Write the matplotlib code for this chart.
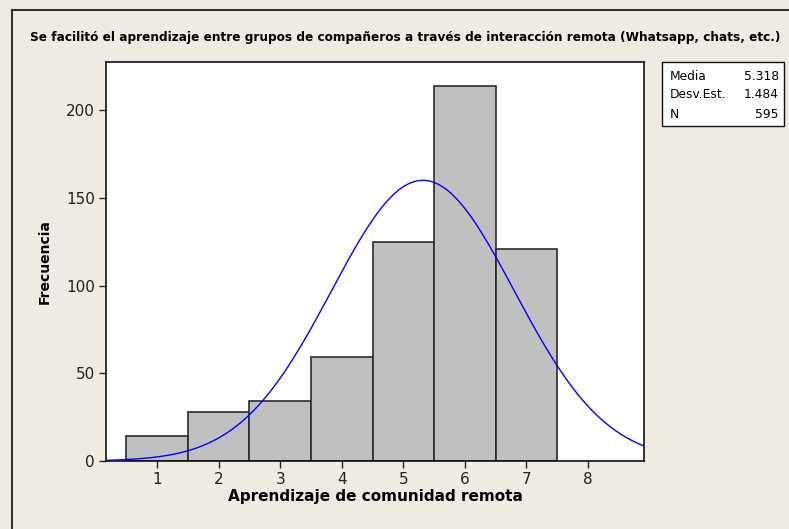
import numpy as np
import matplotlib
matplotlib.use("Agg")
import matplotlib.pyplot as plt
from matplotlib.patches import Rectangle
from matplotlib.lines import Line2D

# histogram data
categorias = [1, 2, 3, 4, 5, 6, 7]
frecuencias = [14, 28, 34, 59, 125, 214, 121]
media = 5.318
desv_est = 1.484
n_total = 595

titulo = "Se facilitó el aprendizaje entre grupos de compañeros a través de interacción remota (Whatsapp, chats, etc.)"
etiqueta_x = "Aprendizaje de comunidad remota"
etiqueta_y = "Frecuencia"
x_ticks = [1, 2, 3, 4, 5, 6, 7, 8]
y_ticks = [0, 50, 100, 150, 200]

fondo = "#EFEBE1"
W, H = 789, 529

fig = plt.figure(figsize=(W / 100, H / 100), dpi=100, facecolor=fondo)

# axes box in pixels: left 106, right 644, top 62, bottom 461
ax = fig.add_axes([106 / W, 1 - 461 / H, (644 - 106) / W, (461 - 62) / H])
ax.set_facecolor("white")

ax.bar(categorias, frecuencias, width=1.0, color="#C0C0C0",
       edgecolor="#2b2b2b", linewidth=1.2, zorder=2)

# fitted normal curve (Minitab style), scaled by N * bin width
xs = np.linspace(0.17, 8.91, 400)
curva = n_total * 1.0 / (desv_est * np.sqrt(2 * np.pi)) * np.exp(-0.5 * ((xs - media) / desv_est) ** 2)
ax.plot(xs, curva, color="#0000FF", linewidth=1.0, zorder=3)

ax.set_xlim(0.17, 8.91)
ax.set_ylim(0, 227.4)
ax.set_xticks(x_ticks)
ax.set_yticks(y_ticks)
ax.tick_params(direction="out", length=5, width=1, labelsize=11,
               colors="#222222", pad=3)
for s in ax.spines.values():
    s.set_linewidth(1.2)
    s.set_color("#111111")

ax.set_xlabel(etiqueta_x, fontsize=11, fontweight="bold", labelpad=1)
ax.set_ylabel(etiqueta_y, fontsize=10, fontweight="bold", labelpad=10)

fig.text(405 / W, 1 - 37 / H, titulo, ha="center", va="center",
         fontsize=8.75, fontweight="bold")

# stats box
fig.patches.append(Rectangle((662 / W, 1 - 126 / H), (784 - 662) / W, (126 - 62) / H,
                             transform=fig.transFigure, facecolor="white",
                             edgecolor="#111111", linewidth=1.0))
filas = [("Media", f"{media:.3f}"), ("Desv.Est.", f"{desv_est:.3f}"), ("N", f"{n_total}")]
for i, (k, v) in enumerate(filas):
    yy = 1 - (76 + 19 * i) / H
    fig.text(670 / W, yy, k, ha="left", va="center", fontsize=8.8)
    fig.text(779 / W, yy, v, ha="right", va="center", fontsize=8.8)

# window border at top and left
fig.lines.append(Line2D([12 / W, 1], [1 - 10 / H, 1 - 10 / H], transform=fig.transFigure,
                        color="#333333", linewidth=1.5))
fig.lines.append(Line2D([12 / W, 12 / W], [0, 1 - 10 / H], transform=fig.transFigure,
                        color="#333333", linewidth=1.5))

fig.savefig("out.png", dpi=100, facecolor=fondo)
